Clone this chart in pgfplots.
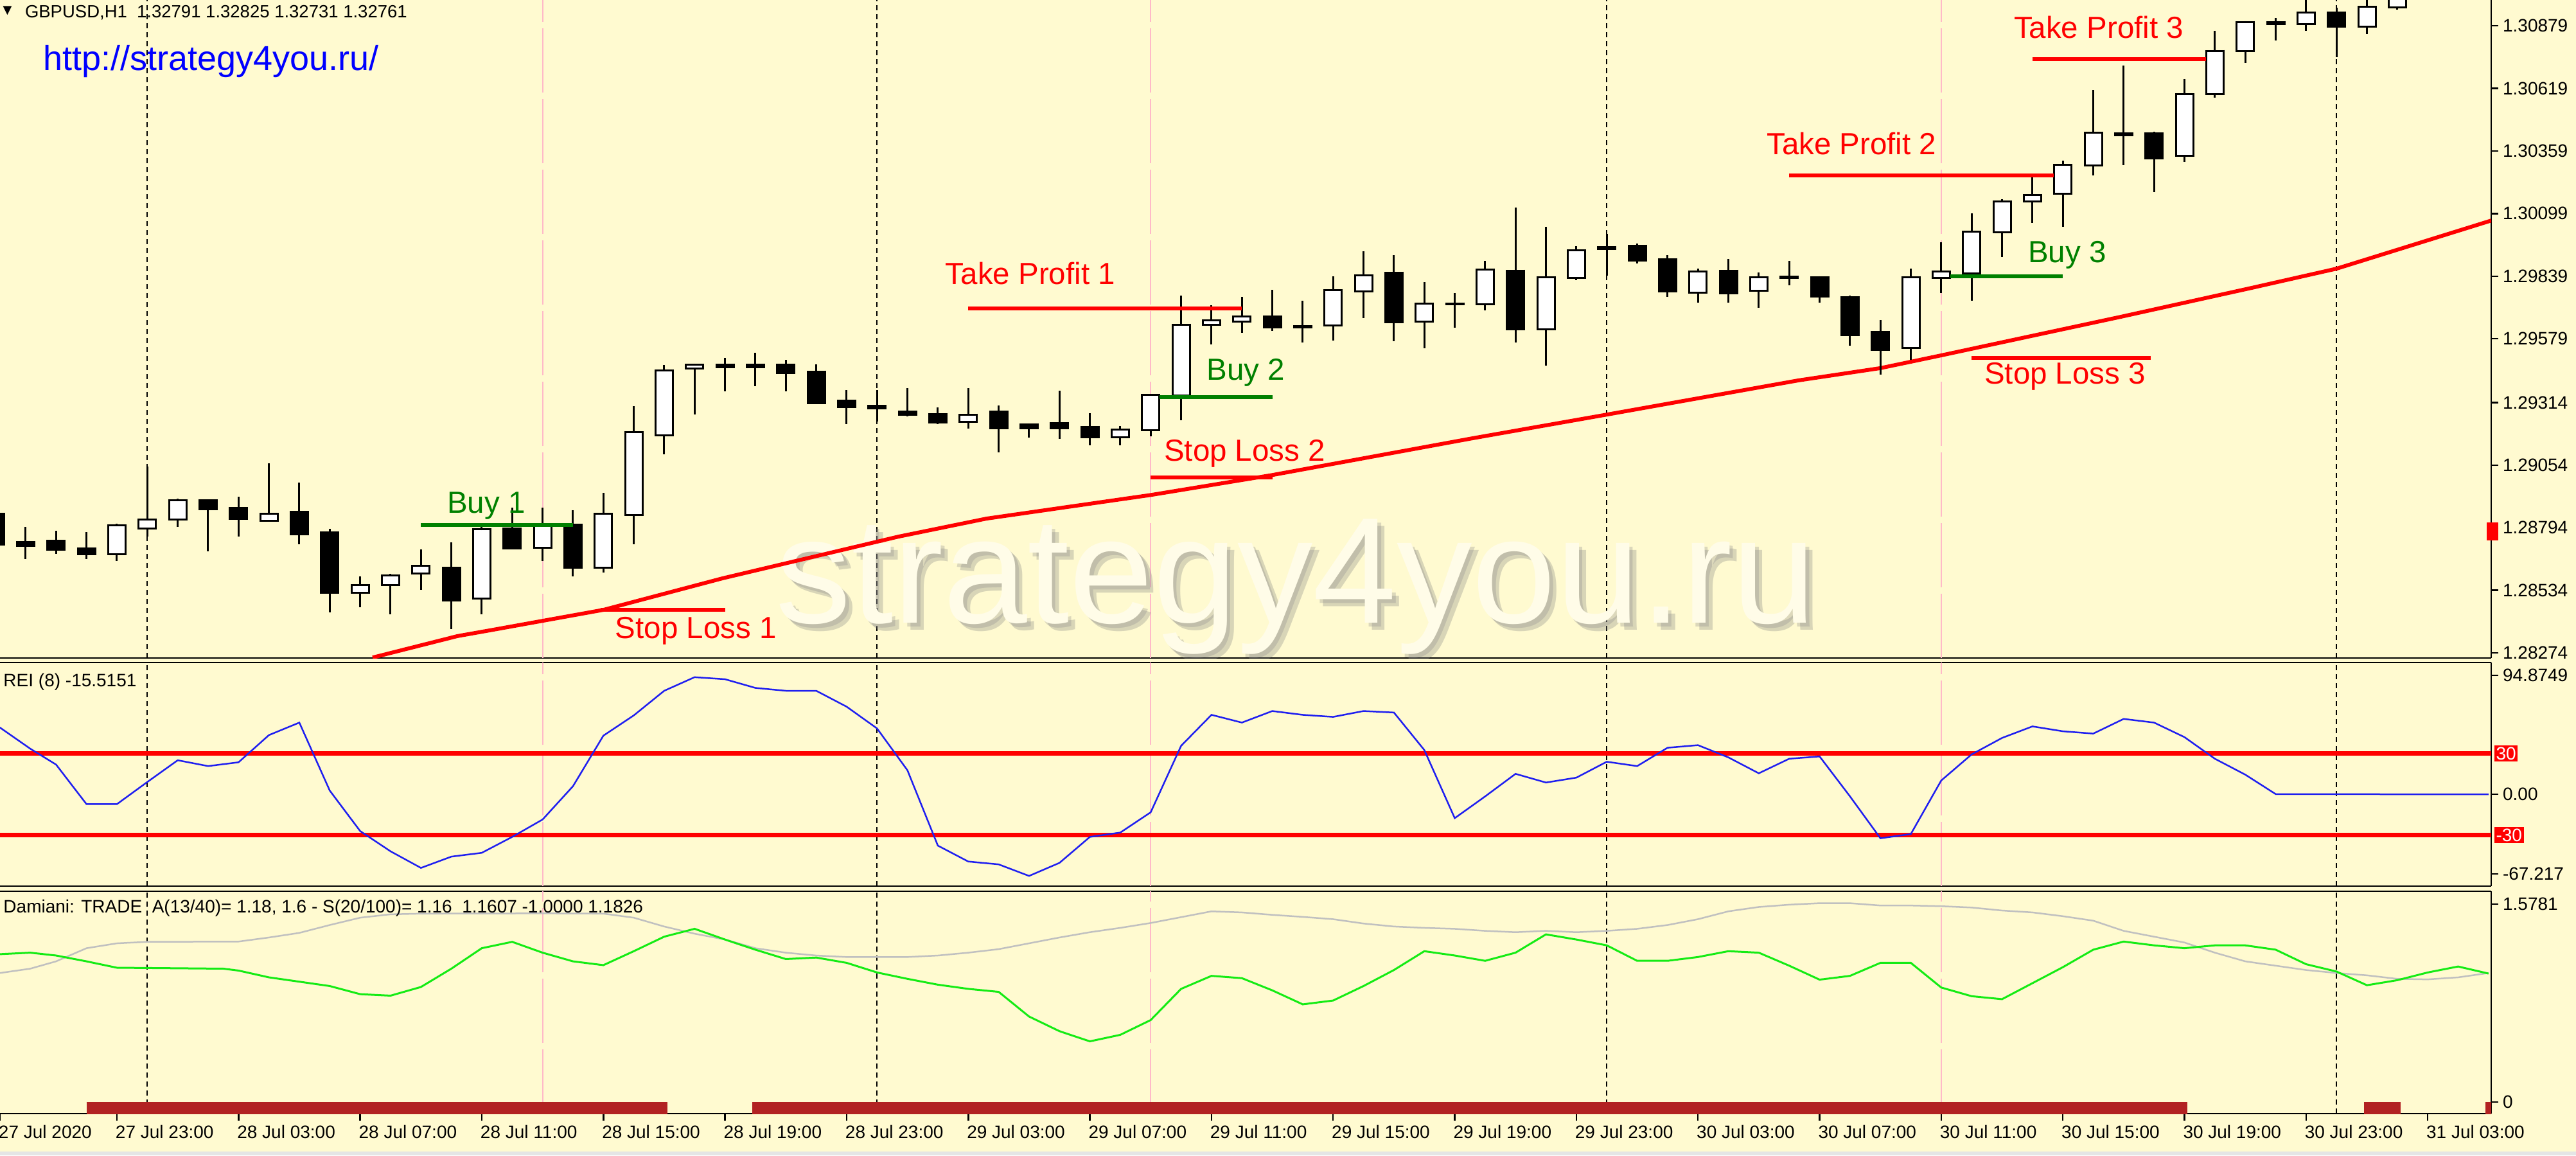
\documentclass[border=0pt]{standalone}
\usepackage{fontspec}
\setmainfont{Liberation Sans}
\newfontfamily\dejavu{DejaVu Sans}
\usepackage{pgfplots}
\usepackage{pgfplotstable}
\pgfplotsset{compat=1.18}

\definecolor{bg}{RGB}{255,250,208}
\definecolor{mared}{RGB}{255,0,0}
\definecolor{buygreen}{RGB}{0,128,0}
\definecolor{reiblue}{RGB}{30,30,240}
\definecolor{damgreen}{RGB}{20,235,20}
\definecolor{damgray}{RGB}{192,192,192}
\definecolor{firebrick}{RGB}{178,34,34}
\definecolor{sesspink}{RGB}{255,185,200}
\definecolor{wmark}{RGB}{255,252,232}

% GBPUSD H1, bar index 0 = 27 Jul 23:00
\pgfplotstableread{
i  o       h       l       c
-4 1.28851 1.28865 1.28712 1.28723
-3 1.28734 1.28798 1.28664 1.28720
-2 1.28739 1.28782 1.28685 1.28704
-1 1.28709 1.28776 1.28664 1.28683
0  1.28683 1.28811 1.28656 1.28803
1  1.28792 1.29048 1.28758 1.28827
2  1.28827 1.28915 1.28798 1.28907
3  1.28907 1.28907 1.28696 1.28870
4  1.28875 1.28923 1.28758 1.28832
5  1.28824 1.29062 1.28824 1.28851
6  1.28859 1.28981 1.28726 1.28766
7  1.28774 1.28790 1.28443 1.28523
8  1.28523 1.28592 1.28464 1.28557
9  1.28555 1.28603 1.28435 1.28597
10 1.28603 1.28704 1.28536 1.28637
11 1.28629 1.28734 1.28373 1.28491
12 1.28501 1.28803 1.28435 1.28787
13 1.28790 1.28878 1.28704 1.28709
14 1.28712 1.28878 1.28656 1.28806
15 1.28806 1.28867 1.28592 1.28627
16 1.28629 1.28939 1.28608 1.28851
17 1.28848 1.29299 1.28726 1.29190
18 1.29179 1.29469 1.29099 1.29448
19 1.29456 1.29472 1.29264 1.29472
20 1.29472 1.29499 1.29360 1.29461
21 1.29472 1.29520 1.29381 1.29461
22 1.29472 1.29491 1.29360 1.29437
23 1.29443 1.29472 1.29312 1.29312
24 1.29323 1.29365 1.29224 1.29296
25 1.29301 1.29365 1.29235 1.29291
26 1.29277 1.29373 1.29256 1.29264
27 1.29266 1.29293 1.29224 1.29232
28 1.29235 1.29373 1.29205 1.29264
29 1.29277 1.29301 1.29107 1.29208
30 1.29224 1.29227 1.29168 1.29208
31 1.29229 1.29362 1.29163 1.29208
32 1.29213 1.29269 1.29136 1.29171
33 1.29171 1.29216 1.29136 1.29203
34 1.29200 1.29347 1.29174 1.29347
35 1.29344 1.29758 1.29240 1.29638
36 1.29638 1.29718 1.29555 1.29656
37 1.29651 1.29752 1.29603 1.29672
38 1.29672 1.29782 1.29611 1.29627
39 1.29632 1.29736 1.29563 1.29627
40 1.29635 1.29838 1.29571 1.29782
41 1.29776 1.29942 1.29664 1.29843
42 1.29854 1.29926 1.29568 1.29648
43 1.29651 1.29814 1.29539 1.29726
44 1.29723 1.29768 1.29624 1.29726
45 1.29723 1.29902 1.29696 1.29867
46 1.29862 1.30124 1.29563 1.29619
47 1.29619 1.30044 1.29467 1.29835
48 1.29833 1.29963 1.29822 1.29947
49 1.29961 1.30014 1.29841 1.29953
50 1.29966 1.29974 1.29891 1.29905
51 1.29910 1.29926 1.29752 1.29776
52 1.29771 1.29870 1.29728 1.29859
53 1.29862 1.29910 1.29728 1.29768
54 1.29779 1.29854 1.29707 1.29835
55 1.29838 1.29902 1.29800 1.29833
56 1.29835 1.29835 1.29728 1.29755
57 1.29752 1.29758 1.29550 1.29595
58 1.29608 1.29656 1.29429 1.29534
59 1.29542 1.29870 1.29491 1.29835
60 1.29833 1.29979 1.29768 1.29859
61 1.29851 1.30100 1.29736 1.30025
62 1.30022 1.30158 1.29918 1.30150
63 1.30150 1.30265 1.30059 1.30177
64 1.30180 1.30318 1.30044 1.30302
65 1.30300 1.30612 1.30257 1.30436
66 1.30431 1.30714 1.30300 1.30425
67 1.30431 1.30439 1.30188 1.30329
68 1.30340 1.30658 1.30313 1.30594
69 1.30594 1.30858 1.30580 1.30775
70 1.30775 1.30895 1.30724 1.30895
71 1.30895 1.30911 1.30818 1.30885
72 1.30885 1.31000 1.30858 1.30933
73 1.30935 1.30954 1.30748 1.30874
74 1.30874 1.30990 1.30845 1.30957
75 1.30954 1.31080 1.30946 1.31050
}\candles

% moving average
\pgfplotstableread{
i     v
8.41  1.28255
11.2  1.28344
12.36 1.28370
16    1.28453
19.92 1.28584
25.7  1.28757
28.6  1.28832
34    1.28930
38    1.29013
44.6  1.29166
49    1.29264
55.3  1.29406
58    1.29457
60    1.29510
65.9  1.29670
70.2  1.29790
73    1.29870
78.09 1.30070
}\ma

% REI (8)
\pgfplotstableread{
i     v
-3.85 49.2
-2.85 33.6
-2    21.9
-1    -7.2
0     -7.2
1     9.1
2     25.1
3     20.8
4     23.6
5     43.6
6     52.8
7     2.8
8     -27.0
9     -41.9
10    -54.1
11    -45.8
12    -43.0
13    -31.3
14    -18.5
15    6.0
16    43.2
17    58.1
18    76.2
19    86.2
20    84.7
21    78.3
22    76.2
23    76.2
24    64.5
25    48.5
26    17.7
27    -37.7
28    -49.4
29    -51.5
30    -60.0
31    -50.4
32    -31.3
33    -28.1
34    -13.2
35    35.7
36    58.5
37    52.8
38    61.3
39    58.5
40    57.0
41    61.3
42    60.2
43    32.6
44    -17.5
45    -1.5
46    15.1
47    8.7
48    12.3
49    24.0
50    20.8
51    34.3
52    36.2
53    27.2
54    15.5
55    26.2
56    27.9
57    -1.5
58    -32.3
59    -29.2
60    10.2
61    29.4
62    41.5
63    50.0
64    46.4
65    44.7
66    55.5
67    52.8
68    42.1
69    26.2
70    14.5
71    0.2
78    0
}\rei

% Damiani volatmeter
\pgfplotstableread{
i     v
-3.85 1.176
-2.85 1.187
-2    1.166
-1    1.123
0     1.076
1     1.074
3.5   1.069
4     1.055
5     1.005
6     0.973
7     0.941
8     0.881
9     0.870
10    0.934
11    1.069
12    1.220
13    1.267
14    1.187
15    1.123
16    1.095
17    1.198
18    1.305
19    1.363
20    1.284
21    1.209
22    1.140
23    1.151
24    1.112
25    1.041
26    0.994
27    0.951
28    0.920
29    0.898
30    0.716
31    0.608
32    0.533
33    0.581
34    0.690
35    0.920
36    1.016
37    0.999
38    0.909
39    0.806
40    0.834
41    0.941
42    1.059
43    1.198
44    1.166
45    1.127
46    1.187
47    1.322
48    1.284
49    1.241
50    1.127
51    1.127
52    1.155
53    1.198
54    1.187
55    1.091
56    0.988
57    1.016
58    1.112
59    1.112
60    0.930
61    0.866
62    0.844
63    0.962
64    1.080
65    1.209
66    1.269
67    1.241
68    1.220
69    1.241
70    1.241
71    1.209
72    1.102
73    1.048
74    0.947
75    0.984
76    1.041
77    1.085
78    1.033
}\damgreen

\pgfplotstableread{
i     v
-3.85 1.037
-2.85 1.069
-2    1.123
-1    1.220
0     1.256
1     1.267
4     1.269
5     1.299
6     1.333
7     1.391
8     1.445
9     1.470
10    1.475
14    1.477
16    1.475
17    1.445
18    1.380
19    1.327
20    1.284
21    1.220
22    1.187
23    1.166
24    1.155
26    1.155
27    1.166
28    1.187
29    1.213
30    1.256
31    1.299
32    1.338
33    1.370
34    1.406
35    1.449
36    1.492
37    1.484
38    1.466
39    1.451
40    1.434
41    1.402
42    1.380
43    1.370
44    1.363
45    1.348
46    1.338
47    1.348
48    1.338
49    1.348
50    1.363
51    1.391
52    1.434
53    1.492
54    1.524
55    1.541
56    1.552
57    1.552
58    1.535
59    1.535
60    1.530
61    1.520
62    1.498
63    1.484
64    1.456
65    1.423
66    1.348
67    1.305
68    1.262
69    1.187
70    1.123
71    1.091
72    1.059
73    1.037
74    1.020
75    0.994
76    0.990
77    1.005
78    1.037
}\damgray

\pgfplotsset{
  mtpanel/.style={
    scale only axis, width=775.6pt,
    xmin=-3.845, xmax=78.09,
    axis x line*=box, axis y line*=right,
    axis line style={-, black, line width=0.5pt},
    tick align=outside, major tick length=2.2pt,
    tick style={black, line width=0.5pt},
    xtick=\empty,
    ticklabel style={font=\fontsize{5.6}{6.7}\selectfont},
    yticklabel style={anchor=west, inner sep=0pt, xshift=1.2pt},
    /pgf/number format/assume math mode=true,
    clip=true,
  },
  daysep/.style={black, line width=0.4pt, dash pattern=on 1.6pt off 1.2pt, forget plot},
  pinksep/.style={sesspink, line width=0.4pt, dash pattern=on 20pt off 2pt, forget plot},
  candle/.style={only marks, mark=*, mark size=0pt, mark options={draw=none, fill=none},
    error bars/.cd, y dir=minus, y explicit, error mark=none},
}
\tikzset{note/.style={font=\fontsize{9.5}{10}\selectfont, anchor=base west, inner sep=0pt}}

\newcommand{\seps}[2]{%
  \pgfplotsinvokeforeach{14,34,60}{\addplot[pinksep] coordinates {(##1,#1) (##1,#2)};}%
  \pgfplotsinvokeforeach{1,25,49,73}{\addplot[daysep] coordinates {(##1,#1) (##1,#2)};}%
}

\begin{document}
\begin{tikzpicture}
\useasboundingbox (0pt,0pt) rectangle (802pt,359.6pt);
\fill[bg] (0pt,0pt) rectangle (802pt,359.6pt);
\fill[black!10] (0pt,0pt) rectangle (802pt,1.2pt);

% ---------- price panel ----------
\begin{axis}[mtpanel, at={(0pt,154.8pt)}, anchor=south west, height=204.8pt,
  axis x line*=bottom,
  ymin=1.28253, ymax=1.30986,
  ytick={1.28274,1.28534,1.28794,1.29054,1.29314,1.29579,1.29839,1.30099,1.30359,1.30619,1.30879},
  yticklabels={1.28274,1.28534,1.28794,1.29054,1.29314,1.29579,1.29839,1.30099,1.30359,1.30619,1.30879},
]
\seps{1.28253}{1.30986}
% watermark
\node[anchor=base west, inner sep=0pt, text=black!50, opacity=0.3, font=\fontsize{47}{50}\selectfont]
  at (axis cs:21.65,1.28398) [xshift=2.2pt, yshift=-2.2pt] {strategy4you.ru};
\node[anchor=base west, inner sep=0pt, text=black!45, opacity=0.3, font=\fontsize{47}{50}\selectfont]
  at (axis cs:21.65,1.28398) [xshift=1.1pt, yshift=-1.1pt] {strategy4you.ru};
\node[anchor=base west, inner sep=0pt, text=wmark, font=\fontsize{47}{50}\selectfont]
  at (axis cs:21.65,1.28398) {strategy4you.ru};
% moving average
\addplot[mared, line width=1.2pt] table[x=i, y=v] {\ma};
% candles: wicks, outer bodies, white fill for rising bars
\addplot[candle, error bar style={black, line width=0.6pt}]
  table[x=i, y=h, y error minus expr={\thisrow{h}-\thisrow{l}}] {\candles};
\addplot[candle, error bar style={black, line width=6pt}]
  table[x=i, y expr={max(\thisrow{o},\thisrow{c})+0.00004},
        y error minus expr={abs(\thisrow{o}-\thisrow{c})+0.00008}] {\candles};
\addplot[candle, error bar style={white, line width=4.8pt}]
  table[x=i, y expr={max(\thisrow{o},\thisrow{c})-0.00004},
        y error minus expr={max(\thisrow{c}-\thisrow{o}-0.00008,0)}] {\candles};
% trade levels
\addplot[buygreen, line width=1.1pt] coordinates {(10,1.28805) (15,1.28805)};
\addplot[mared, line width=1.1pt] coordinates {(15.9,1.28453) (20,1.28453)};
\addplot[mared, line width=1.1pt] coordinates {(28,1.29705) (37,1.29705)};
\addplot[buygreen, line width=1.1pt] coordinates {(34.3,1.29336) (38,1.29336)};
\addplot[mared, line width=1.1pt] coordinates {(34,1.29003) (38,1.29003)};
\addplot[mared, line width=1.1pt] coordinates {(55,1.30257) (63.7,1.30257)};
\addplot[buygreen, line width=1.1pt] coordinates {(60.3,1.29838) (64,1.29838)};
\addplot[mared, line width=1.1pt] coordinates {(61,1.29499) (66.9,1.29499)};
\addplot[mared, line width=1.1pt] coordinates {(63,1.30740) (68.7,1.30740)};
\node[note, text=buygreen] at (axis cs:10.84,1.28856) {Buy 1};
\node[note, text=mared] at (axis cs:16.37,1.28335) {Stop Loss 1};
\node[note, text=mared] at (axis cs:27.23,1.29806) {Take Profit 1};
\node[note, text=buygreen] at (axis cs:35.83,1.29406) {Buy 2};
\node[note, text=mared] at (axis cs:34.42,1.29072) {Stop Loss 2};
\node[note, text=mared] at (axis cs:54.24,1.30345) {Take Profit 2};
\node[note, text=buygreen] at (axis cs:62.84,1.29897) {Buy 3};
\node[note, text=mared] at (axis cs:61.40,1.29392) {Stop Loss 3};
\node[note, text=mared] at (axis cs:62.37,1.30826) {Take Profit 3};
\end{axis}

% ---------- REI panel ----------
\begin{axis}[mtpanel, at={(0pt,83.8pt)}, anchor=south west, height=69.6pt,
  ymin=-67.5, ymax=97,
  ytick={87.5,0,-58.6}, yticklabels={94.8749,0.00,-67.217},
]
\seps{-67.5}{97}
\addplot[mared, line width=1.4pt] coordinates {(-3.845,30) (78.09,30)};
\addplot[mared, line width=1.4pt] coordinates {(-3.845,-30) (78.09,-30)};
\addplot[reiblue, line width=0.5pt] table[x=i, y=v] {\rei};
\node[anchor=west, inner sep=0pt, font=\fontsize{5.6}{6.7}\selectfont] at (axis cs:-3.75,82.7) {REI (8) -15.5151};
\end{axis}

% ---------- Damiani panel ----------
\begin{axis}[mtpanel, at={(0pt,13pt)}, anchor=south west, height=69.2pt,
  ymin=0, ymax=1.64,
  ytick={1.545,0.085}, yticklabels={1.5781,0},
  xtick={-3.845,0,4,...,76},
  xtick pos=lower,
  xticklabels={27 Jul 2020,27 Jul 23:00,28 Jul 03:00,28 Jul 07:00,28 Jul 11:00,28 Jul 15:00,28 Jul 19:00,28 Jul 23:00,29 Jul 03:00,29 Jul 07:00,29 Jul 11:00,29 Jul 15:00,29 Jul 19:00,29 Jul 23:00,30 Jul 03:00,30 Jul 07:00,30 Jul 11:00,30 Jul 15:00,30 Jul 19:00,30 Jul 23:00,31 Jul 03:00},
  xticklabel style={anchor=north west, inner sep=0pt, xshift=-0.6pt, yshift=-1.2pt},
]
\seps{0}{1.64}
\addplot[damgray, line width=0.5pt] table[x=i, y=v] {\damgray};
\addplot[damgreen, line width=0.6pt] table[x=i, y=v] {\damgreen};
\addplot[firebrick, line width=7.2pt] coordinates {(-1.0,0) (18.1,0)};
\addplot[firebrick, line width=7.2pt] coordinates {(20.9,0) (68.1,0)};
\addplot[firebrick, line width=7.2pt] coordinates {(73.9,0) (75.1,0)};
\addplot[firebrick, line width=7.2pt] coordinates {(77.9,0) (78.1,0)};
\node[anchor=west, inner sep=0pt, font=\fontsize{5.6}{6.7}\selectfont] at (axis cs:-3.75,1.517)
  {Damiani: TRADE~~A(13/40)= 1.18, 1.6 - S(20/100)= 1.16~~1.1607 -1.0000 1.1826};
\end{axis}

% level tags on the REI scale, price marker, header texts
\node[anchor=west, fill=mared, text=white, inner sep=0.5pt, font=\fontsize{5.6}{6.7}\selectfont] at (776.4pt,125.1pt) {30};
\node[anchor=west, fill=mared, text=white, inner sep=0.5pt, font=\fontsize{5.6}{6.7}\selectfont] at (776.4pt,99.7pt) {-30};
\fill[mared] (774.2pt,191.4pt) rectangle (777.8pt,197.0pt);
\node[anchor=center, inner sep=0pt, font=\dejavu\fontsize{3.6}{4}\selectfont] at (2.3pt,356.3pt) {▼};
\node[anchor=base west, inner sep=0pt, font=\fontsize{5.5}{6.5}\selectfont] at (7.6pt,354.0pt)
  {GBPUSD,H1~~1.32791 1.32825 1.32731 1.32761};
\node[anchor=base west, inner sep=0pt, text=blue, font=\fontsize{10.8}{12}\selectfont] at (13.2pt,337.6pt)
  {http://strategy4you.ru/};
\end{tikzpicture}
\end{document}
